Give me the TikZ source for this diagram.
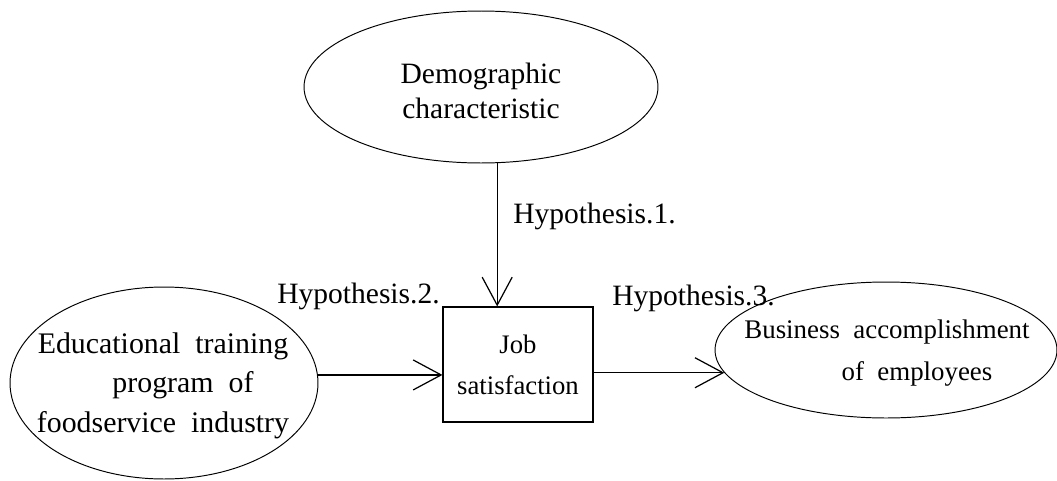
\documentclass[tikz,border=0pt]{standalone}
\usepackage{fontspec}
\setmainfont{Liberation Serif}
\usetikzlibrary{arrows.meta, shapes.geometric}

\begin{document}
\begin{tikzpicture}[x = 0.02cm, y = -0.02cm]
\tikzstyle{OvalStyle}=[shape = ellipse,
                       inner sep = 0pt,
                       line width = 0.55pt,
                       draw]
\tikzstyle{BoxStyle}=[shape = rectangle,
                      minimum width = 3cm,
                      minimum height = 2.3cm,
                      inner sep = 0pt,
                      align = center,
                      line width = 0.65pt,
                      font = \fontsize{15.2}{23.3}\selectfont,
                      draw]
\tikzstyle{TextStyle}=[align = center, inner sep = 0pt]
\tikzstyle{LabelStyle}=[anchor = base west, inner sep = 0pt,
                        font = \fontsize{16.8}{20}\selectfont]
\tikzstyle{ArrowStyle}=[-{Straight Barb[length = 0.56cm, width = 0.6cm]},
                        line width = 0.7pt]
\useasboundingbox (0,0) rectangle (1057,480);
% ovals and box
\node[OvalStyle, minimum width = 7.08cm, minimum height = 3.04cm] (demo) at (481,87) {};
\node[OvalStyle, minimum width = 6.16cm, minimum height = 3.84cm] (edu) at (164,383) {};
\node[OvalStyle, minimum width = 6.84cm, minimum height = 2.72cm] (biz) at (886,350) {};
\node[BoxStyle] (job) at (518,364.5) {Job\\satisfaction};
% texts in the ovals
\node[TextStyle, font = \fontsize{16.8}{19.9}\selectfont] (demotext) at (481,90.5) {Demographic\\characteristic};
\node[TextStyle, font = \fontsize{17}{22.4}\selectfont] (edutext) at (163,385.6) {Educational\ \ training\\\hspace*{0.8cm}program\ \ of\\foodservice\ \ industry};
\node[TextStyle, font = \fontsize{15.3}{23.9}\selectfont] (biztext) at (887,352.8) {Business\ \ accomplishment\\\hspace*{1.2cm}of\ \ employees};
% hypotheses
\node[LabelStyle] (hyp1) at (513,223) {Hypothesis.1.};
\node[LabelStyle] (hyp2) at (277,303) {Hypothesis.2.};
\node[LabelStyle] (hyp3) at (612,305) {Hypothesis.3.};
\draw[ArrowStyle] (demo.282) -- (demo.282 |- job.north);
\draw[ArrowStyle] (edu.3) -- (edu.3 -| job.west);
\draw[ArrowStyle] (job.east |- biz.188) -- (biz.188);
\end{tikzpicture}
\end{document}
